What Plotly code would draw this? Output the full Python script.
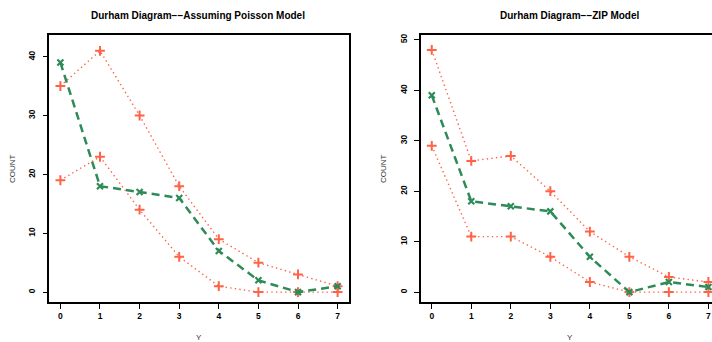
import plotly.graph_objects as go

W, H = 712, 342

y_vals = [0, 1, 2, 3, 4, 5, 6, 7]

# Left panel: Poisson model
pois_obs = [39, 18, 17, 16, 7, 2, 0, 1]
pois_upper = [35, 41, 30, 18, 9, 5, 3, 1]
pois_lower = [19, 23, 14, 6, 1, 0, 0, 0]

# Right panel: ZIP model
zip_obs = [39, 18, 17, 16, 7, 0, 2, 1]
zip_upper = [48, 26, 27, 20, 12, 7, 3, 2]
zip_lower = [29, 11, 11, 7, 2, 0, 0, 0]

left_yticks = [0, 10, 20, 30, 40]
right_yticks = [0, 10, 20, 30, 40, 50]

title_left = "Durham Diagram\u2212\u2212Assuming Poisson Model"
title_right = "Durham Diagram\u2212\u2212ZIP Model"

GREEN = "#2E8B57"
RED = "#FF6347"
FONT = "Liberation Sans, Arial, Helvetica, sans-serif"

fig = go.Figure()

def add_panel(xa, ya, obs, up, lo):
    for band in (up, lo):
        fig.add_trace(go.Scatter(
            x=y_vals, y=band, mode="lines+markers", xaxis=xa, yaxis=ya,
            line=dict(color=RED, width=1.4, dash="1.4px,3.2px"),
            marker=dict(symbol="cross-thin", size=7, line=dict(color=RED, width=2)),
            showlegend=False, hoverinfo="skip", cliponaxis=False))
    fig.add_trace(go.Scatter(
        x=y_vals, y=obs, mode="lines+markers", xaxis=xa, yaxis=ya,
        line=dict(color=GREEN, width=2.5, dash="8px,5px"),
        marker=dict(symbol="x-thin", size=6, line=dict(color=GREEN, width=2.2)),
        showlegend=False, hoverinfo="skip", cliponaxis=False))

add_panel("x", "y", pois_obs, pois_upper, pois_lower)
add_panel("x2", "y2", zip_obs, zip_upper, zip_lower)

ytop = 1 - 35 / H
ybot = 1 - 302 / H
px_per_x = (336.7 - 60.0) / 7.0

def xax(domain, rng, mirror):
    return dict(domain=domain, range=rng, tickvals=y_vals, ticktext=[str(v) for v in y_vals],
                showline=True, linecolor="black", linewidth=1.5, mirror=mirror,
                ticks="outside", ticklen=5, tickwidth=1.2, tickcolor="black",
                showgrid=False, zeroline=False, fixedrange=True,
                tickfont=dict(family=FONT, size=8.5, color="black", weight="bold"))

def yax(rng, ticks, mirror, anchor):
    return dict(domain=[ybot, ytop], range=rng, tickvals=ticks, ticktext=[str(v) for v in ticks],
                showline=True, linecolor="black", linewidth=1.5, mirror=mirror,
                ticks="outside", ticklen=5, tickwidth=1.2, tickcolor="black",
                showgrid=False, zeroline=False, fixedrange=True, tickangle=-90,
                anchor=anchor, ticklabelstandoff=4,
                tickfont=dict(family=FONT, size=8.5, color="black", weight="bold"))

right_x_end = (712 - 431.7) / px_per_x

fig.update_layout(
    width=W, height=H, margin=dict(l=0, r=0, t=0, b=0),
    paper_bgcolor="white", plot_bgcolor="white",
    xaxis=xax([49.3 / W, 348.7 / W], [-0.28, 7.28], True),
    yaxis=yax([-1.68, 43.68], left_yticks, True, "x"),
    xaxis2=dict(xax([420.7 / W, 1.0], [-0.28, right_x_end], True), anchor="y2"),
    yaxis2=yax([-1.96, 50.96], right_yticks, False, "x2"),
)

ann_font_title = dict(family=FONT, size=10, color="black", weight="bold")
ann_font_lab = dict(family=FONT, size=8, color="#333333")

annotations = [
    dict(text=title_left, x=198 / W, y=1 - 15 / H, font=ann_font_title),
    dict(text=title_right, x=570 / W, y=1 - 15 / H, font=ann_font_title),
    dict(text="COUNT", x=12.5 / W, y=1 - 168.5 / H, textangle=-90, font=ann_font_lab),
    dict(text="COUNT", x=383.5 / W, y=1 - 168.5 / H, textangle=-90, font=ann_font_lab),
    dict(text="Y", x=199 / W, y=1 - 337 / H, font=ann_font_lab),
    dict(text="Y", x=570 / W, y=1 - 337 / H, font=ann_font_lab),
]
for a in annotations:
    a.update(xref="paper", yref="paper", showarrow=False, xanchor="center", yanchor="middle")
fig.update_layout(annotations=annotations)

fig.write_html("out.html", config={"displayModeBar": False},
               post_script="document.body.style.margin='0';document.body.style.overflow='hidden';")
